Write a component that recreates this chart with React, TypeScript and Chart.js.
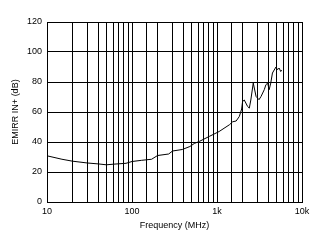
import React, { useEffect, useRef } from "react";
import { Chart, registerables } from "chart.js";

Chart.register(...registerables);

const frequencies = [
  10, 15, 20, 30, 40, 50, 60, 85, 100, 130, 170, 200, 270, 300, 390, 480, 540,
  620, 810, 1060, 1400, 1530, 1680, 1830, 1950, 2000, 2094, 2290, 2400, 2500,
  2670, 2880, 3120, 3300, 3600, 3760, 3940, 4110, 4290, 4490, 4940, 5150, 5380,
  5620, 5760,
];
const emirr = [
  30.8, 28.5, 27.2, 26, 25.4, 24.8, 25.2, 25.8, 27, 27.8, 28.5, 31, 32, 34, 35,
  37, 39, 40.4, 43.7, 47, 51.5, 53.5, 54, 57, 62, 67, 68, 63.7, 62.6, 68, 79.3,
  70.4, 68.2, 70.4, 74.9, 78.2, 79.3, 74.9, 79.3, 86, 90, 88.2, 89.3, 87, 88,
];
const xLabels: Record<number, string> = { 10: "10", 100: "100", 1000: "1k", 10000: "10k" };
const yTicks = [0, 20, 40, 60, 80, 100, 120];

const FONT = "'Liberation Sans', Arial, sans-serif";

export default function App() {
  const ref = useRef<HTMLCanvasElement>(null);
  useEffect(() => {
    if (!ref.current) return;
    const chart = new Chart(ref.current, {
      type: "line",
      data: {
        datasets: [
          {
            data: frequencies.map((f, i) => ({ x: f, y: emirr[i] })),
            borderColor: "#000",
            borderWidth: 1,
            pointRadius: 0,
            tension: 0,
            fill: false,
          },
        ],
      },
      options: {
        animation: false,
        responsive: false,
        maintainAspectRatio: false,
        layout: { padding: { left: 0, top: 22, right: 16, bottom: 0 } },
        plugins: { legend: { display: false }, tooltip: { enabled: false } },
        scales: {
          x: {
            type: "logarithmic",
            min: 10,
            max: 10000,
            afterFit: (s: any) => {
              s.height = 41;
            },
            grid: { color: "#000", lineWidth: 1, drawTicks: false },
            border: { color: "#000", width: 1 },
            ticks: {
              autoSkip: false,
              maxRotation: 0,
              minRotation: 0,
              padding: 4,
              color: "#000",
              font: { family: FONT, size: 9 },
              callback: (v: any) => xLabels[Math.round(Number(v))] ?? "",
            },
            title: {
              display: true,
              text: "Frequency (MHz)",
              color: "#000",
              font: { family: FONT, size: 9 },
              padding: { top: 0, bottom: 12 },
            },
          },
          y: {
            min: 0,
            max: 120,
            afterFit: (s: any) => {
              s.width = 47;
            },
            afterBuildTicks: (s: any) => {
              s.ticks = yTicks.map((v) => ({ value: v }));
            },
            grid: { color: "#000", lineWidth: 1, drawTicks: false },
            border: { color: "#000", width: 1 },
            ticks: {
              padding: 5,
              color: "#000",
              font: { family: FONT, size: 9 },
            },
            title: {
              display: true,
              text: "EMIRR IN+ (dB)",
              color: "#000",
              font: { family: FONT, size: 9 },
              padding: { top: 10, bottom: 0 },
            },
          },
        },
      },
    });
    return () => chart.destroy();
  }, []);
  return (
    <div style={{ position: "fixed", left: 0, top: 0, width: 318, height: 243, background: "#fff" }}>
      <canvas ref={ref} width={318} height={243} style={{ display: "block", width: 318, height: 243 }} />
    </div>
  );
}
